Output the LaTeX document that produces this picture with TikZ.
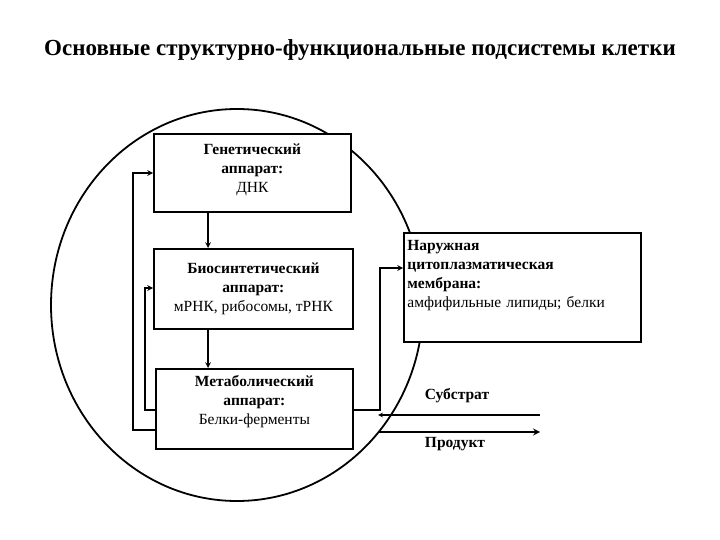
\documentclass[tikz,border=0pt]{standalone}
\usepackage{fontspec}
\setmainfont{Liberation Serif}
\usetikzlibrary{positioning,calc,arrows}

\begin{document}
\begin{tikzpicture}[x=1pt,y=-1pt,
    box/.style={rectangle, draw=black, line width=1.8pt, minimum width=197pt, minimum height=78pt, align=center, font=\fontsize{15.5}{19}\selectfont, anchor=north west, inner sep=2pt},
    arrow/.style={->, >=stealth, line width=1.5pt}
]
    \useasboundingbox (0,0) rectangle (720,540);

    % Title
    \node[font=\bfseries\fontsize{23}{26}\selectfont] (title) at (360,50) {Основные структурно-функциональные подсистемы клетки};

    % Cell boundary
    \draw[line width=1.8pt] (237,305) ellipse (186pt and 196pt);

    % Subsystems
    \node[box, fill=white, text depth=10pt] (gen) at (153,133) {\textbf{Генетический}\\\textbf{аппарат:}\\ДНК};
    \node[box, fill=white, minimum width=199pt, minimum height=80pt] (bio) at (153,248) {\textbf{Биосинтетический}\\\textbf{аппарат:}\\мРНК, рибосомы, тРНК};
    \node[box, fill=white, minimum width=197pt, minimum height=80pt, text depth=18pt] (met) at (155,368) {\textbf{Метаболический}\\\textbf{аппарат:}\\Белки-ферменты};
    \node[box, fill=white, minimum width=237pt, minimum height=109pt, align=left, text width=230pt, text depth=84pt] (mem) at (403,232) {\textbf{Наружная}\\\textbf{цитоплазматическая}\\\textbf{мембрана:}\\амфифильные липиды; белки};

    % Flow inside the cell
    \draw[arrow] (gen.south -| 208,0) -- (bio.north -| 208,0);
    \draw[arrow] (bio.south -| 208,0) -- (met.north -| 208,0);
    \draw[arrow] (met.west |- 0,430) -| (133,173) -- (gen.west |- 0,173);
    \draw[arrow] (met.west |- 0,410) -| (145,288) -- (bio.west |- 0,288);
    \draw[arrow] (met.east |- 0,410) -| (380,268) -- (mem.west |- 0,268);

    % Exchange with the environment
    \coordinate (sin) at (540,415);
    \coordinate (sout) at (378,415);
    \coordinate (pin) at (378,432);
    \coordinate (pout) at (540,432);
    \draw[arrow, line width=1.2pt] (sin) -- (sout);
    \draw[arrow, line width=2pt] (pin) -- (pout);
    \node[font=\bfseries\fontsize{15.5}{19}\selectfont] (sub) at (457,396) {Субстрат};
    \node[font=\bfseries\fontsize{15.5}{19}\selectfont] (prod) at (455,444) {Продукт};
\end{tikzpicture}
\end{document}
